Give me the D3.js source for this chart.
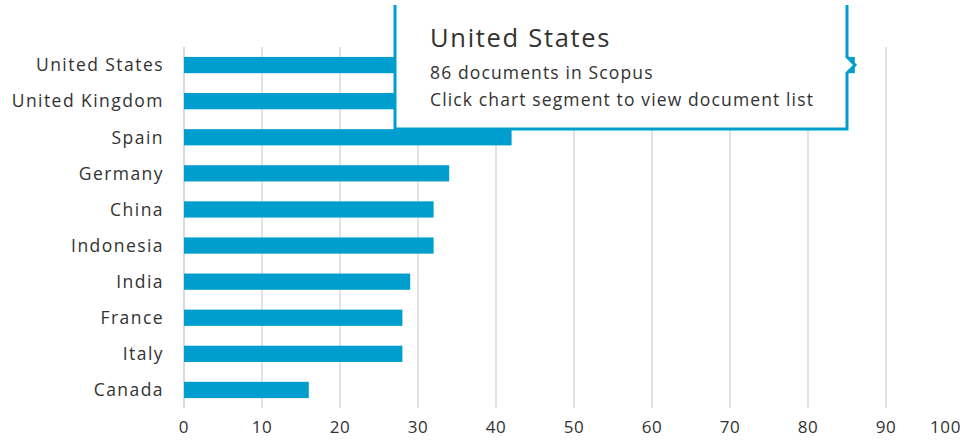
<!DOCTYPE html>
<html><head><meta charset="utf-8">
<script src="https://cdn.jsdelivr.net/npm/d3@7"></script>
<style>body{margin:0;background:#fff;overflow:hidden}svg{display:block}</style>
</head><body><svg id="c" width="960" height="441"></svg>
<script>
const countries = ["United States","United Kingdom","Spain","Germany","China","Indonesia","India","France","Italy","Canada"];
const documents = [86, 52, 42, 34, 32, 32, 29, 28, 28, 16];
const xTicks = [0,10,20,30,40,50,60,70,80,90,100];
const tooltipTitle = "United States";
const tooltipLines = ["86 documents in Scopus","Click chart segment to view document list"];

const font = "'Open Sans', sans-serif";
const ink = "#323232";
const svg = d3.select("#c");
const x = d3.scaleLinear().domain([0,100]).range([184,964]);
const y = d3.scaleBand().domain(countries).range([47,408]).paddingInner(0.55).paddingOuter(0.275);

// grid
svg.append("g").selectAll("line").data(xTicks.slice(1)).join("line")
  .attr("x1",d=>x(d)).attr("x2",d=>x(d)).attr("y1",47).attr("y2",408)
  .attr("stroke","#e3e3e3").attr("stroke-width",2);
svg.append("line").attr("x1",x(0)).attr("x2",x(0)).attr("y1",47).attr("y2",408)
  .attr("stroke","#d5dae3").attr("stroke-width",2);

// bars
svg.append("g").selectAll("rect").data(countries).join("rect")
  .attr("x",x(0)).attr("y",d=>y(d)).attr("height",y.bandwidth())
  .attr("width",(d,i)=>x(documents[i])-x(0)).attr("fill","#009ece");

// y labels
svg.append("g").selectAll("text").data(countries).join("text")
  .attr("x",164).attr("y",d=>y(d)+y.bandwidth()/2).attr("dy","0.36em")
  .attr("text-anchor","end").attr("font-family",font).attr("font-size",17.5)
  .attr("letter-spacing",1.45).attr("fill",ink).text(d=>d);

// x axis labels
svg.append("g").selectAll("text").data(xTicks).join("text")
  .attr("x",d=>d===100?961:x(d)).attr("y",433).attr("text-anchor",d=>d===100?"end":"middle")
  .attr("font-family",font).attr("font-size",17).attr("letter-spacing",0.6)
  .attr("fill",ink).text(d=>d);

// tooltip
const tg = svg.append("g");
const L=395, R=847, T=5, B=129, py=65;
tg.append("path").attr("d",`M${L},${T} V${B} H${R} V${py+8} L${R+8},${py} L${R},${py-8} V${T}`)
  .attr("fill","#fff").attr("stroke","#009ece").attr("stroke-width",3);
tg.append("text").attr("x",430).attr("y",47).attr("font-family",font).attr("font-size",25.5)
  .attr("letter-spacing",1.7).attr("fill",ink).text(tooltipTitle);
tg.selectAll("text.l").data(tooltipLines).join("text").attr("class","l")
  .attr("x",430).attr("y",(d,i)=>79+i*27).attr("font-family",font).attr("font-size",17.5)
  .attr("letter-spacing",1.13).attr("fill",ink).text(d=>d);
</script></body></html>
